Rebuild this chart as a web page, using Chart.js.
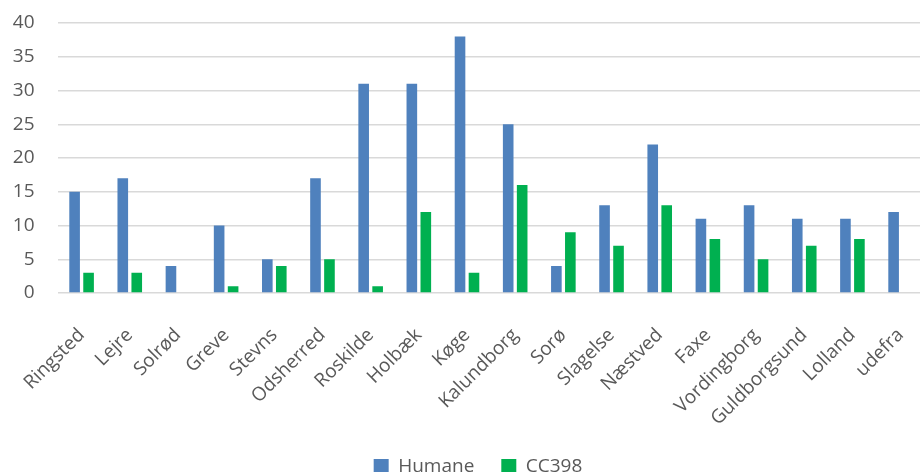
<!DOCTYPE html>
<html>
<head>
<meta charset="utf-8">
<script src="https://cdn.jsdelivr.net/npm/chart.js@4"></script>
<style>
  html, body { margin: 0; padding: 0; background: #fff; overflow: hidden; }
  #wrap { position: relative; width: 920px; height: 472px; overflow: hidden; }
  #box { position: absolute; left: 0; top: 0; width: 940px; height: 486px; }
</style>
</head>
<body>
<div id="wrap"><div id="box"><canvas id="c" width="940" height="486"></canvas></div></div>
<script>
// Kommuner / regions along the x axis
const categories = ['Ringsted', 'Lejre', 'Solrød', 'Greve', 'Stevns', 'Odsherred', 'Roskilde', 'Holbæk', 'Køge',
  'Kalundborg', 'Sorø', 'Slagelse', 'Næstved', 'Faxe', 'Vordingborg', 'Guldborgsund', 'Lolland', 'udefra'];
// Counts per series
const humane = [15, 17, 4, 10, 5, 17, 31, 31, 38, 25, 4, 13, 22, 11, 13, 11, 11, 12];
const cc398  = [3, 3, null, 1, 4, 5, 1, 12, 3, 16, 9, 7, 13, 8, 5, 7, 8, null];
// Y axis range
const yTicks = [0, 5, 10, 15, 20, 25, 30, 35, 40];

const FONT = '"Open Sans", sans-serif';
const TEXT = '#595959';

// nudges the bottom legend a little to the right of the canvas centre
const legendNudge = {
  id: 'legendNudge',
  afterLayout(chart) {
    const lg = chart.legend;
    if (lg) { lg.left += 13; lg.right += 13; }
  }
};

new Chart(document.getElementById('c'), {
  type: 'bar',
  data: {
    labels: categories,
    datasets: [
      { label: 'Humane', data: humane, backgroundColor: '#4F81BD',
        categoryPercentage: 0.58, barPercentage: 0.76 },
      { label: 'CC398', data: cc398, backgroundColor: '#00B050',
        categoryPercentage: 0.58, barPercentage: 0.76 }
    ]
  },
  plugins: [legendNudge],
  options: {
    responsive: false,
    animation: false,
    layout: { padding: { top: 23, right: 10, left: 0, bottom: 0 } },
    plugins: {
      legend: {
        position: 'bottom',
        labels: {
          font: { family: FONT, size: 19 },
          color: TEXT,
          boxWidth: 15, boxHeight: 15,
          padding: 27
        }
      },
      tooltip: { enabled: false }
    },
    scales: {
      x: {
        grid: { display: false },
        border: { display: false },
        ticks: {
          font: { family: FONT, size: 19 },
          color: TEXT,
          minRotation: 45, maxRotation: 45,
          autoSkip: false,
          padding: 23
        },
        afterFit(scale) { scale.height = 137; }
      },
      y: {
        min: yTicks[0], max: yTicks[yTicks.length - 1],
        grid: { color: '#D9D9D9', lineWidth: 1.5, drawTicks: true, tickLength: 23, tickColor: 'rgba(0,0,0,0)' },
        border: { display: false },
        ticks: {
          stepSize: yTicks[1] - yTicks[0],
          font: { family: FONT, size: 19 },
          color: TEXT,
          padding: 0
        },
        afterFit(scale) { scale.width = 57.5; }
      }
    }
  }
});
</script>
</body>
</html>
